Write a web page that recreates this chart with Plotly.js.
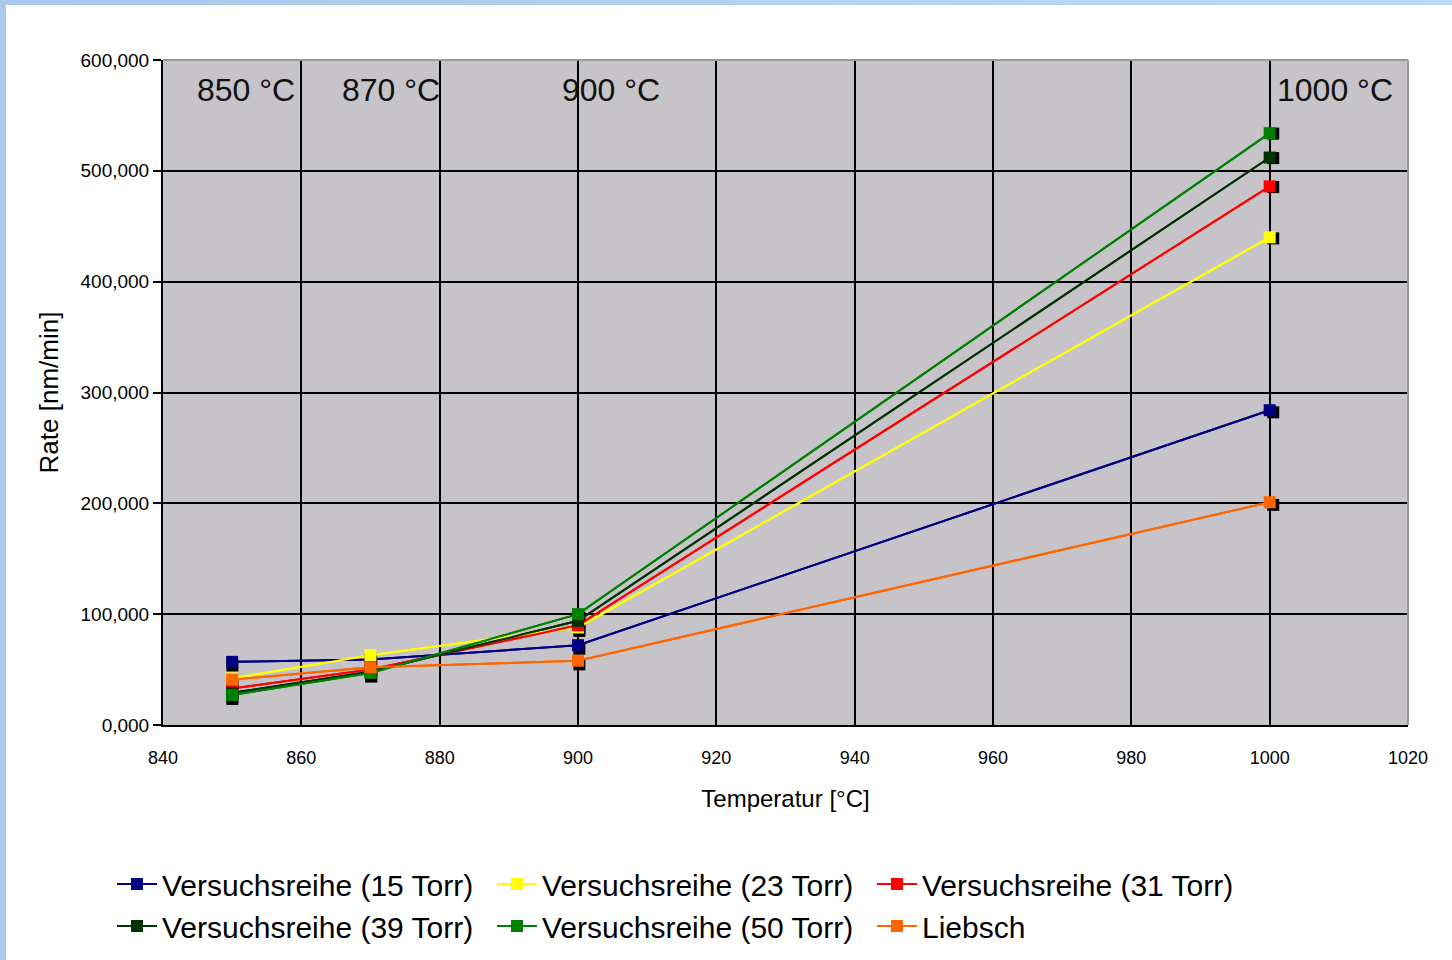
<!DOCTYPE html>
<html><head><meta charset="utf-8">
<script src="https://cdn.plot.ly/plotly-3.0.1.min.js"></script>
<style>
html,body{margin:0;padding:0;width:1452px;height:960px;overflow:hidden;background:linear-gradient(90deg,#a9c8ec,#b9dcf7);}
#chart{position:absolute;left:6px;top:5px;width:1446px;height:955px;background:#fff;}
</style></head><body><div id="chart"></div>
<script>
const temps = [850, 870, 900, 1000];
const seriesNames = ['Versuchsreihe (15 Torr)','Versuchsreihe (23 Torr)','Versuchsreihe (31 Torr)','Versuchsreihe (39 Torr)','Versuchsreihe (50 Torr)','Liebsch'];
const torr15 = [57, 59, 72, 284];
const torr23 = [42, 63, 88, 440];
const torr31 = [33, 50, 90, 486];
const torr39 = [29, 48, 94, 512];
const torr50 = [27, 47, 100, 534];
const liebsch = [41, 52, 58, 201];
const seriesColors = ['#000080','#ffff00','#ff0000','#003300','#008000','#ff6600'];
const yTickVals = [0,100,200,300,400,500,600];
const yTickText = ['0,000','100,000','200,000','300,000','400,000','500,000','600,000'];
const xTickVals = [840,860,880,900,920,940,960,980,1000,1020];
const tempLabels = ['850 °C','870 °C','900 °C','1000 °C'];
const tempLabelX = [844.6, 865.6, 897.4, 1000.8];

const values = [torr15, torr23, torr31, torr39, torr50, liebsch];
const W = 1446, H = 955;
const mL = 157, mR = 44, mT = 55, mB = 235;
const pw = W - mL - mR, ph = H - mT - mB;
const off = 4;
const xr = [840, 1020], yr = [0, 600];
const font = 'Liberation Sans, Arial, sans-serif';

const traces = [];
// lines (main axes)
values.forEach((v, i) => {
  traces.push({x: temps, y: v, mode: 'lines', showlegend: false, hoverinfo: 'skip',
    line: {color: seriesColors[i], width: 2}});
});
// marker shadows (axes shifted by a few pixels right/down, same scale)
values.forEach((v) => {
  traces.push({x: temps, y: v, xaxis: 'x2', yaxis: 'y2', mode: 'markers', showlegend: false, hoverinfo: 'skip',
    marker: {symbol: 'square', size: 12, color: '#000'}});
});
// coloured markers + legend entries
values.forEach((v, i) => {
  traces.push({x: temps, y: v, xaxis: 'x3', yaxis: 'y3', name: seriesNames[i], mode: 'lines+markers',
    line: {color: seriesColors[i], width: 2}, marker: {symbol: 'square', size: 12, color: seriesColors[i]}});
});

const layout = {
  width: W, height: H,
  margin: {l: mL, r: mR, t: mT, b: mB},
  paper_bgcolor: '#fff', plot_bgcolor: '#c6c4c9',
  font: {family: font, color: '#000'},
  showlegend: true,
  legend: {orientation: 'h', xref: 'container', x: 106 / W, xanchor: 'left', yref: 'container', y: 1 - 853 / H, yanchor: 'top',
    entrywidth: 325, entrywidthmode: 'pixels', itemwidth: 40,
    font: {size: 30, family: font, color: '#000'}, tracegroupgap: 0},
  xaxis: {range: xr, tickvals: xTickVals, ticktext: xTickVals.map(String), automargin: false,
    showgrid: true, gridcolor: '#000', gridwidth: 2, zeroline: false, showline: true, linecolor: '#000', linewidth: 2,
    ticks: '', tickfont: {size: 18, family: font}, ticklabelstandoff: 15,
    title: {text: 'Temperatur [°C]', font: {size: 24, family: font}, standoff: 24}},
  yaxis: {range: yr, tickvals: yTickVals, ticktext: yTickText, automargin: false,
    showgrid: true, gridcolor: '#000', gridwidth: 2, zeroline: false, showline: true, linecolor: '#000', linewidth: 2,
    ticks: 'outside', ticklen: 8, tickwidth: 2, tickcolor: '#000', tickfont: {size: 19, family: font},
    title: {text: 'Rate [nm/min]', font: {size: 26, family: font}, standoff: 14}},
  xaxis2: {overlaying: 'x', range: [xr[0], xr[1] - (xr[1] - xr[0]) * off / pw], domain: [off / pw, 1], visible: false, anchor: 'y2'},
  yaxis2: {overlaying: 'y', range: [yr[0] + (yr[1] - yr[0]) * off / ph, yr[1]], domain: [0, 1 - off / ph], visible: false, anchor: 'x2'},
  xaxis3: {overlaying: 'x', range: xr, visible: false, anchor: 'y3'},
  yaxis3: {overlaying: 'y', range: yr, visible: false, anchor: 'x3'},
  shapes: [
    {type: 'line', xref: 'paper', yref: 'paper', x0: 0, x1: 1, y0: 1, y1: 1, line: {color: '#999', width: 2}},
    {type: 'line', xref: 'paper', yref: 'paper', x0: 1, x1: 1, y0: 0, y1: 1, line: {color: '#999', width: 2}}
  ],
  annotations: tempLabels.map((t, i) => ({x: tempLabelX[i], y: 573, xref: 'x', yref: 'y', text: t, showarrow: false,
    xanchor: 'left', font: {size: 32, family: font, color: '#111'}}))
};
Plotly.newPlot('chart', traces, layout, {displayModeBar: false, staticPlot: true});
</script></body></html>
